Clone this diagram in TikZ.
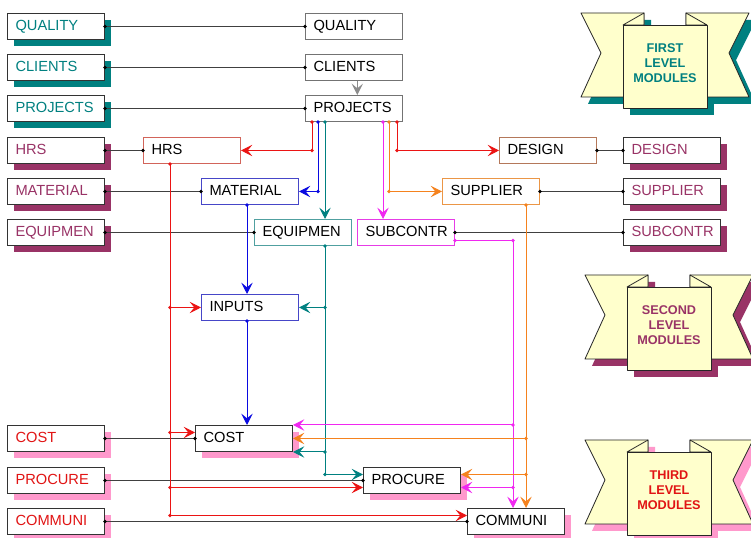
\documentclass[tikz,border=0pt]{standalone}
\usepackage{fontspec}
\setmainfont{Liberation Sans}
\usetikzlibrary{arrows.meta,shadows}

\definecolor{tealc}{RGB}{0,128,128}
\definecolor{maroonc}{RGB}{153,51,102}
\definecolor{pinkc}{RGB}{255,153,204}
\definecolor{redt}{RGB}{225,20,20}
\definecolor{redl}{RGB}{235,20,20}
\definecolor{bluel}{RGB}{10,10,225}
\definecolor{orl}{RGB}{245,130,30}
\definecolor{magl}{RGB}{240,40,240}
\definecolor{ribbonc}{RGB}{255,255,204}

\tikzset{
  modbox/.style={draw=black!80, fill=white, line width=0.75pt, anchor=north west,
    minimum height=19.5pt, text width=60.75pt, inner xsep=6pt, inner ysep=0pt,
    text height=8pt, text depth=2pt, align=left, font=\fontsize{11}{13}\selectfont},
  shad/.style={drop shadow={shadow xshift=4.75pt, shadow yshift=-5pt, fill=#1, opacity=1}},
  link/.style={black!75, line width=0.75pt},
  flow/.style={line width=0.75pt, -{Stealth[length=8.5pt,width=8.5pt,inset=3.5pt]}},
  ribbon/.style={fill=ribbonc, draw=black!85, line width=0.6pt, line join=round},
  bantext/.style={font=\fontsize{9.5}{11.25}\selectfont\bfseries, align=center, inner sep=0pt}
}

\begin{document}
\begin{tikzpicture}[x=0.75pt,y=-0.75pt]
\useasboundingbox (0,0) rectangle (751,538);
\fill[white] (0,0) rectangle (751,538);

% banners
\foreach \n/\bx/\by/\sc/\tc/\txt in {1/623/25/tealc/tealc/{FIRST\\LEVEL\\MODULES},
    2/627/287/maroonc/maroonc/{SECOND\\LEVEL\\MODULES},
    3/627/452/pinkc/redt/{THIRD\\LEVEL\\MODULES}}{
  \begin{scope}[shift={(\bx,\by)}]
    \begin{scope}[shift={(7,7)}]
      \fill[\sc] (-42,-12) -- (21,-12) -- (21,72) -- (-42,72) -- (-22,28) -- cycle;
      \fill[\sc] (63,-12) -- (126,-12) -- (106,28) -- (126,72) -- (63,72) -- cycle;
      \fill[\sc] (0,0) rectangle (84,83);
    \end{scope}
    \draw[ribbon] (-42,-12) -- (21,-12) -- (21,72) -- (-42,72) -- (-22,28) -- cycle;
    \draw[ribbon] (63,-12) -- (126,-12) -- (106,28) -- (126,72) -- (63,72) -- cycle;
    \draw[ribbon] (0,0) -- (21,-12) -- (21,0) -- cycle;
    \draw[ribbon] (84,0) -- (63,-12) -- (63,0) -- cycle;
    \draw[ribbon] (0,0) rectangle (84,83);
    \node[bantext, text=\tc] (banner\n) at (42,38) {\txt};
  \end{scope}
}

% first level modules
\node[modbox, shad=tealc, text=tealc] (lqual) at (7,13) {QUALITY};
\node[modbox, shad=tealc, text=tealc] (lclient) at (7,54) {CLIENTS};
\node[modbox, shad=tealc, text=tealc] (lproj) at (7,95) {PROJECTS};
\node[modbox, draw=black!55] (quality) at (305,13) {QUALITY};
\node[modbox, draw=black!55] (clients) at (305,54) {CLIENTS};
\node[modbox, draw=black!55] (projects) at (305,95) {PROJECTS};

% second level modules
\node[modbox, shad=maroonc, text=maroonc] (lhrs) at (7,137) {HRS};
\node[modbox, shad=maroonc, text=maroonc] (lmat) at (7,178) {MATERIAL};
\node[modbox, shad=maroonc, text=maroonc] (leq) at (7,219) {EQUIPMEN};
\node[modbox, shad=maroonc, text=maroonc] (rdesign) at (623,137) {DESIGN};
\node[modbox, shad=maroonc, text=maroonc] (rsupp) at (623,178) {SUPPLIER};
\node[modbox, shad=maroonc, text=maroonc] (rsub) at (623,219) {SUBCONTR};
\node[modbox, draw={rgb,255:red,210;green,100;blue,90}] (hrs) at (143,137) {HRS};
\node[modbox, draw={rgb,255:red,70;green,70;blue,200}] (material) at (201,178) {MATERIAL};
\node[modbox, draw={rgb,255:red,80;green,160;blue,160}] (equipmen) at (254,219) {EQUIPMEN};
\node[modbox, draw={rgb,255:red,230;green,60;blue,230}] (subcontr) at (357,219) {SUBCONTR};
\node[modbox, draw={rgb,255:red,180;green,120;blue,90}] (design) at (499,137) {DESIGN};
\node[modbox, draw={rgb,255:red,235;green,150;blue,70}] (supplier) at (442,178) {SUPPLIER};
\node[modbox, draw={rgb,255:red,70;green,70;blue,200}] (inputs) at (201,294) {INPUTS};

% third level modules
\node[modbox, shad=pinkc, text=redt] (lcost) at (7,425) {COST};
\node[modbox, shad=pinkc, text=redt] (lproc) at (7,467) {PROCURE};
\node[modbox, shad=pinkc, text=redt] (lcomm) at (7,508) {COMMUNI};
\node[modbox, shad=pinkc] (cost) at (195,425) {COST};
\node[modbox, shad=pinkc] (procure) at (363,467) {PROCURE};
\node[modbox, shad=pinkc] (communi) at (467,508) {COMMUNI};

% links between levels
\draw[link] (lqual.east) -- (quality.west);
\draw[link] (lclient.east) -- (clients.west);
\draw[link] (lproj.east) -- (projects.west);
\draw[link] (lhrs.east) -- (hrs.west);
\draw[link] (lmat.east) -- (material.west);
\draw[link] (leq.east) -- (equipmen.west);
\draw[link] (design.east) -- (rdesign.west);
\draw[link] (supplier.east) -- (rsupp.west);
\draw[link] (subcontr.east) -- (rsub.west);
\draw[link] (lcost.east) -- (cost.west);
\draw[link] (lproc.east) -- (procure.west);
\draw[link] (lcomm.east) -- (communi.west);
\draw[flow, black!45] ([xshift=2.5pt]clients.south) -- ([xshift=2.5pt]projects.north);

% taps under PROJECTS
\coordinate (pr1) at ([xshift=5.25pt]projects.south west);
\coordinate (pr2) at ([xshift=9.75pt]projects.south west);
\coordinate (pr3) at ([xshift=15pt]projects.south west);
\coordinate (pr4) at ([xshift=58.5pt]projects.south west);
\coordinate (pr5) at ([xshift=63pt]projects.south west);
\coordinate (pr6) at ([xshift=69pt]projects.south west);
\draw[flow, redl] (pr1) |- (hrs.east);
\draw[flow, bluel] (pr2) |- (material.east);
\draw[flow, tealc] (pr3) -- (pr3 |- equipmen.north);
\draw[flow, magl] (pr4) -- (pr4 |- subcontr.north);
\draw[flow, orl] (pr5) |- (supplier.west);
\draw[flow, redl] (pr6) |- (design.west);

% rows at the third level
\coordinate (costr) at ([yshift=4.5pt]cost.west);
\coordinate (procl) at ([yshift=4.5pt]procure.west);
\coordinate (procr) at ([yshift=-5.25pt]procure.west);
\coordinate (procle) at ([yshift=4.5pt]procure.east);
\coordinate (procre) at ([yshift=-5.25pt]procure.east);
\coordinate (commr) at ([yshift=4.5pt]communi.west);

% HRS
\coordinate (hv) at ([xshift=20.25pt]hrs.south west);
\draw[flow, redl] (hv) |- (commr);
\draw[flow, redl] (hv |- inputs.west) -- (inputs.west);
\draw[flow, redl] (hv |- costr) -- (costr);
\draw[flow, redl] (hv |- procr) -- (procr);

% MATERIAL and INPUTS
\coordinate (bv) at ([xshift=-2.25pt]material.south);
\coordinate (bv2) at (bv |- inputs.south);
\draw[flow, bluel] (bv) -- (bv |- inputs.north);
\draw[flow, bluel] (bv2) -- (bv2 |- cost.north);

% EQUIPMEN
\coordinate (tv) at (pr3 |- equipmen.south);
\draw[flow, tealc] (tv) |- (procl);
\draw[flow, tealc] (tv |- inputs.east) -- (inputs.east);
\draw[flow, tealc] (tv |- cost.south east) -- (cost.south east);

% SUBCONTR
\coordinate (ms) at ([yshift=-6pt]subcontr.east);
\coordinate (mtop) at ([xshift=34.5pt]communi.north west);
\draw[flow, magl] (ms) -| (mtop);
\draw[flow, magl] (mtop |- cost.north east) -- (cost.north east);
\draw[flow, magl] (mtop |- procre) -- (procre);

% SUPPLIER
\coordinate (os) at ([xshift=63pt]supplier.south west);
\draw[flow, orl] (os) -- (os |- communi.north);
\draw[flow, orl] (os |- cost.east) -- (cost.east);
\draw[flow, orl] (os |- procle) -- (procle);

% dots
\foreach \p in {lqual.east, quality.west, lclient.east, clients.west, lproj.east, projects.west,
    lhrs.east, hrs.west, lmat.east, material.west, leq.east, equipmen.west,
    design.east, rdesign.west, supplier.east, rsupp.west, subcontr.east, rsub.west,
    lcost.east, cost.west, lproc.east, procure.west, lcomm.east, communi.west}
  \fill (\p) circle (1.4pt);
\foreach \p in {pr1, pr6, pr1|-hrs.east, pr6|-design.west, hv, hv|-inputs.west, hv|-costr, hv|-procr, hv|-commr}
  \fill[redl] (\p) circle (1.4pt);
\foreach \p in {pr2, pr2|-material.east, bv, bv2}
  \fill[bluel] (\p) circle (1.4pt);
\foreach \p in {pr3, tv, tv|-inputs.east, tv|-cost.south east, tv|-procl}
  \fill[tealc] (\p) circle (1.4pt);
\foreach \p in {pr4, ms, ms-|mtop, mtop|-cost.north east, mtop|-procre}
  \fill[magl] (\p) circle (1.4pt);
\foreach \p in {pr5, pr5|-supplier.west, os, os|-cost.east, os|-procle}
  \fill[orl] (\p) circle (1.4pt);
\end{tikzpicture}
\end{document}
